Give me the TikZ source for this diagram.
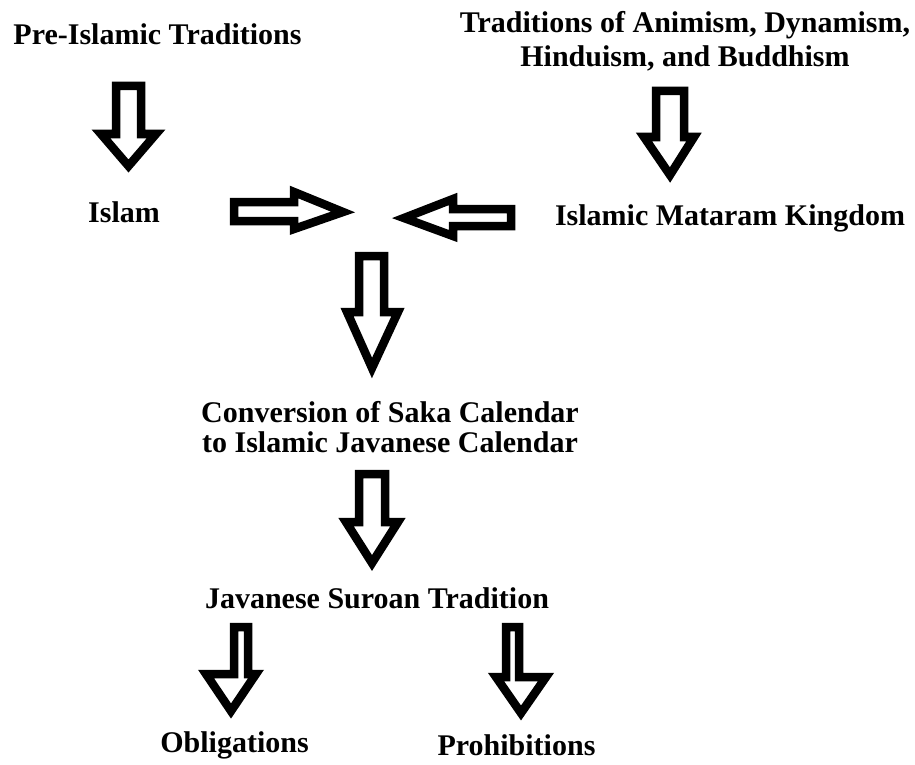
\documentclass[tikz,border=0pt]{standalone}
\usepackage{fontspec}
\setmainfont{Liberation Serif}
\begin{document}
\begin{tikzpicture}[x=1pt,y=-1pt,
  lbl/.style={font=\fontsize{30}{32}\selectfont\bfseries, inner sep=0pt, anchor=base, align=center},
  blk/.style={draw=black, fill=white, line width=8.5pt, line join=miter, miter limit=10}]
\useasboundingbox[fill=white] (0,0) rectangle (915,765);
% text nodes (multi-line nodes are placed by their last line's baseline)
\node[lbl] (pre) at (157.5,45) {Pre-Islamic Traditions};
\node[lbl, font=\fontsize{30}{34}\selectfont\bfseries] (trad) at (685,67) {Traditions of Animism, Dynamism,\\Hinduism, and Buddhism};
\node[lbl] (islam) at (124,222) {Islam};
\node[lbl] (mat) at (730,225) {Islamic Mataram Kingdom};
\node[lbl, font=\fontsize{30}{30}\selectfont\bfseries] (conv) at (390,452) {Conversion of Saka Calendar\\to Islamic Javanese Calendar};
\node[lbl] (jav) at (377,608) {Javanese Suroan Tradition};
\node[lbl] (obl) at (234.5,752) {Obligations};
\node[lbl] (pro) at (516.5,755) {Prohibitions};
% down arrows: shaftL shaftR top base headL headR tipx tipy
\newcommand\dnblk[8]{\draw[blk] (#1,#3) -- (#2,#3) -- (#2,#4) -- (#6,#4) -- (#7,#8) -- (#5,#4) -- (#1,#4) -- cycle;}
\dnblk{116}{141}{86}{134}{101}{156}{128.5}{166}
\dnblk{656}{684}{91}{137}{644}{694}{670}{175}
\dnblk{359}{384}{256}{312}{347}{398}{372}{368}
\dnblk{359}{385}{474}{522}{346}{398}{372}{563}
\dnblk{234}{248}{627}{674}{206}{256}{231}{711}
\dnblk{506}{519}{627}{677}{496}{546}{521}{713}
% horizontal arrows
\draw[blk] (234,202) -- (294,202) -- (294,192) -- (343,212) -- (294,229) -- (294,221) -- (234,221) -- cycle;
\draw[blk] (511,209) -- (453,209) -- (453,199) -- (404,218) -- (453,236) -- (453,226) -- (511,226) -- cycle;
\end{tikzpicture}
\end{document}
